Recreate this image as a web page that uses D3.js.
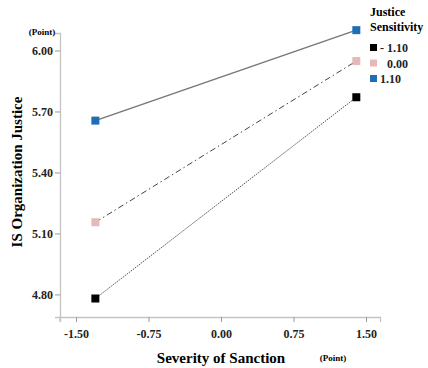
<!DOCTYPE html>
<html>
<head>
<meta charset="utf-8">
<script src="https://cdn.jsdelivr.net/npm/d3@7"></script>
<style>
  html, body { margin: 0; padding: 0; background: #fff; }
  svg text { font-family: "Liberation Serif", "Times New Roman", serif; font-weight: bold; }
</style>
</head>
<body>
<svg id="chart" width="428" height="368"></svg>
<script>
// ==================== DATA ====================
const sanctionLevels = [-1.30, 1.40];
const groups = ['- 1.10', '0.00', '1.10'];
const justiceLow = [4.78, 5.77];
const justiceMid = [5.155, 5.948];
const justiceHigh = [5.655, 6.10];
const xTicks = [-1.50, -0.75, 0.00, 0.75, 1.50];
const yTicks = [4.80, 5.10, 5.40, 5.70, 6.00];

const serif = '"Liberation Serif", "Times New Roman", serif';
const fmt = d => d3.format('.2f')(d).replace('\u2212', '-');

const series = [
  { name: groups[0], values: justiceLow, color: '#000000', line: '#555', dash: '1.5,1' },
  { name: groups[1], values: justiceMid, color: '#e6b8b7', line: '#444', dash: '6,3,1.5,3' },
  { name: groups[2], values: justiceHigh, color: '#1f6db8', line: '#777', dash: null }
];

const svg = d3.select('#chart').attr('font-family', serif);

// ==================== SCALES ====================
const xScale = d3.scaleLinear().domain([-1.666, 1.645]).range([60, 380]);
const yScale = d3.scaleLinear().domain([4.689, 6.086]).range([317, 33]);

// ==================== AXES ====================
const xAxis = svg.append('g')
  .attr('transform', 'translate(0,317)')
  .call(d3.axisBottom(xScale).tickValues(xTicks).tickFormat(fmt).tickSizeOuter(0).tickSize(5));
const yAxis = svg.append('g')
  .attr('transform', 'translate(60,0)')
  .call(d3.axisLeft(yScale).tickValues(yTicks).tickFormat(fmt).tickSizeOuter(0).tickSize(5));

[xAxis, yAxis].forEach(a => {
  a.attr('font-family', serif);
  a.select('.domain').attr('stroke', '#c4c4c4').attr('stroke-width', 1.3);
  a.selectAll('.tick line').attr('stroke', '#999');
  a.selectAll('.tick text')
    .attr('font-size', 12)
    .attr('font-weight', 'bold')
    .attr('fill', '#222');
});
xAxis.selectAll('.tick text').attr('dy', '1.1em');
yAxis.selectAll('.tick text').attr('x', -7);

// small corner tick below the axes origin
svg.append('line')
  .attr('x1', 60).attr('x2', 60).attr('y1', 317).attr('y2', 322)
  .attr('stroke', '#c4c4c4').attr('stroke-width', 1.3);

// ==================== LINES & MARKERS ====================
const line = d3.line()
  .x((d, i) => xScale(sanctionLevels[i]))
  .y(d => yScale(d));

series.forEach(s => {
  svg.append('path')
    .datum(s.values)
    .attr('d', line)
    .attr('fill', 'none')
    .attr('stroke', s.line)
    .attr('stroke-width', s.dash ? 1 : 1.5)
    .attr('stroke-dasharray', s.dash);

  svg.selectAll(null)
    .data(s.values)
    .enter()
    .append('rect')
    .attr('x', (d, i) => xScale(sanctionLevels[i]) - 4)
    .attr('y', d => yScale(d) - 4)
    .attr('width', 8)
    .attr('height', 8)
    .attr('fill', s.color);
});

// ==================== TITLES ====================
svg.append('text')
  .attr('x', 221).attr('y', 363)
  .attr('text-anchor', 'middle')
  .attr('font-size', 15)
  .text('Severity of Sanction');

svg.append('text')
  .attr('x', 333).attr('y', 361)
  .attr('text-anchor', 'middle')
  .attr('font-size', 9)
  .text('(Point)');

svg.append('text')
  .attr('transform', 'translate(22,172) rotate(-90)')
  .attr('text-anchor', 'middle')
  .attr('font-size', 15)
  .text('IS Organization  Justice');

svg.append('text')
  .attr('x', 42).attr('y', 35)
  .attr('text-anchor', 'middle')
  .attr('font-size', 9)
  .text('(Point)');

// ==================== LEGEND ====================
const legend = svg.append('g').attr('transform', 'translate(370,0)');
legend.append('text').attr('x', 0).attr('y', 16).attr('font-size', 12).text('Justice');
legend.append('text').attr('x', 0).attr('y', 31).attr('font-size', 12).text('Sensitivity');

const legendItems = legend.selectAll('.legend-item')
  .data(series)
  .enter()
  .append('g')
  .attr('class', 'legend-item')
  .attr('transform', (d, i) => `translate(0,${48 + i * 15.5})`);

legendItems.append('rect')
  .attr('x', 0).attr('y', -4)
  .attr('width', 7).attr('height', 7)
  .attr('fill', d => d.color);

legendItems.append('text')
  .attr('x', (d, i) => i === 1 ? 17 : 10)
  .attr('y', 4)
  .attr('font-size', 12)
  .attr('fill', '#222')
  .text(d => d.name);
</script>
</body>
</html>
